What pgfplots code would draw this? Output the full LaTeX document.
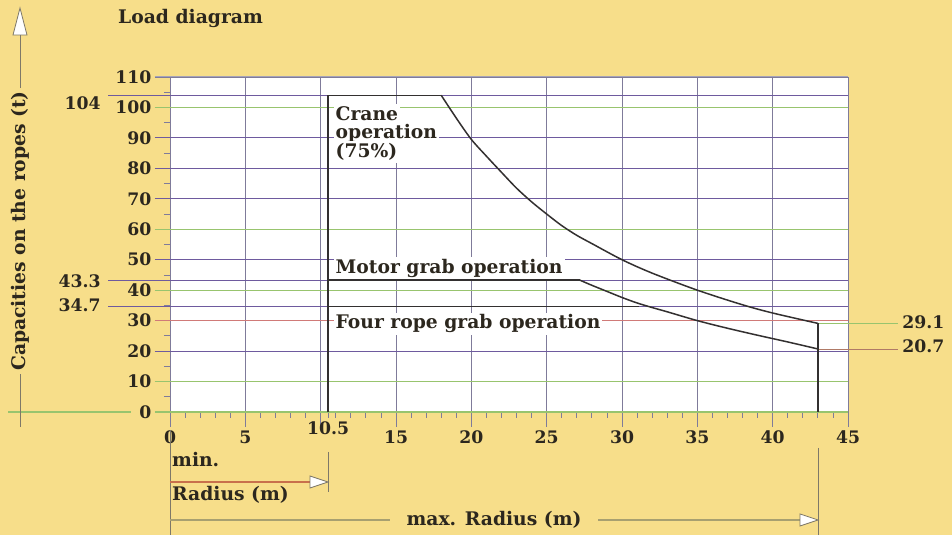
\documentclass[border=0pt]{standalone}
\usepackage{pgfplots}
\pgfplotsset{compat=1.18}
\usepackage{fontspec}
\setmainfont{DejaVu Serif}
\definecolor{bg}{HTML}{F7DE8A}
\definecolor{gridp}{HTML}{6E5A9E}
\definecolor{gridg}{HTML}{98C46E}
\definecolor{gridr}{HTML}{D07A78}
\definecolor{vgrid}{HTML}{7F7B9A}
\definecolor{ink}{HTML}{2C271E}
\definecolor{curve}{HTML}{333030}
\definecolor{minarrow}{HTML}{C8704C}
\definecolor{maxarrow}{HTML}{A8A070}
\definecolor{guide}{HTML}{7E7868}
\definecolor{leadr}{HTML}{B07A66}
\newcommand{\lbl}{\fontsize{18.8}{21}\selectfont\bfseries}
\newcommand{\tlbl}{\fontsize{17.3}{19}\selectfont\bfseries}
\begin{document}
\begin{tikzpicture}[x=1bp,y=1bp]
\path[use as bounding box, fill=bg] (-170,-123) rectangle (782,412);
\begin{axis}[
 at={(0,0)}, anchor=south west,
 scale only axis, width=678bp, height=335bp,
 xmin=0, xmax=45, ymin=0, ymax=110,
 axis background/.style={fill=white},
 xtick={0,5,...,45}, xticklabels={0,5,,15,20,25,30,35,40,45},
 extra x ticks={10.5}, extra x tick labels={10.5},
 extra x tick style={grid=none, major tick length=6bp},
 ytick={0,10,...,110},
 xtick pos=bottom, ytick pos=left,
 minor x tick num=4, minor y tick num=1,
 tick align=outside, major tick length=15bp, minor tick length=6bp,
 xmajorgrids, ymajorgrids,
 x grid style={vgrid, line width=0.8bp},
 y grid style={gridp, line width=1bp},
 axis line style={vgrid, line width=0.8bp},
 tick style={vgrid, line width=0.8bp},
 ticklabel style={font=\tlbl, text=ink},
 /pgf/number format/assume math mode=true,
 clip=false,
]
% horizontal grid lines (coloured), extended to the tick length
\addplot[vgrid!70, line width=1bp] coordinates {(-0.996,110)(45,110)};
\addplot[gridp, line width=1.1bp] coordinates {(-4.1,104)(45,104)};
\addplot[gridg, line width=1.1bp] coordinates {(-0.996,100)(45,100)};
\addplot[gridp, line width=1.1bp] coordinates {(-0.996,90)(45,90)};
\addplot[gridp, line width=1.1bp] coordinates {(-0.996,80)(45,80)};
\addplot[gridp, line width=1.1bp] coordinates {(-0.996,70)(45,70)};
\addplot[gridg, line width=1.1bp] coordinates {(-0.996,60)(45,60)};
\addplot[gridp, line width=1.1bp] coordinates {(-0.996,50)(45,50)};
\addplot[gridp, line width=1.1bp] coordinates {(-4.1,43.3)(45,43.3)};
\addplot[gridg, line width=1.1bp] coordinates {(-0.996,40)(45,40)};
\addplot[gridp, line width=1.1bp] coordinates {(-4.1,34.7)(45,34.7)};
\addplot[gridr, line width=1.1bp] coordinates {(-0.996,30)(45,30)};
\addplot[gridp, line width=1.1bp] coordinates {(-0.996,20)(45,20)};
\addplot[gridg, line width=1.1bp] coordinates {(-0.996,10)(45,10)};
\addplot[gridg, line width=1.2bp] coordinates {(-0.996,0)(45,0)};
\addplot[gridg, line width=1.2bp] coordinates {(-10.75,0)(-2.6,0)};
% right leaders
\addplot[gridg, line width=1.0bp] coordinates {(43,29.1)(48.3,29.1)};
\addplot[leadr, line width=0.9bp] coordinates {(43,20.7)(48.3,20.7)};
% text labels inside the plot
\node[fill=white, inner sep=2bp, anchor=base west, text=ink, font=\lbl] at (axis cs:10.85,95.8) {Crane};
\node[fill=white, inner sep=2bp, anchor=base west, text=ink, font=\lbl] at (axis cs:10.85,89.8) {operation};
\node[fill=white, inner sep=2bp, anchor=base west, text=ink, font=\lbl] at (axis cs:10.85,83.5) {(75\%)};
\node[fill=white, inner sep=2bp, anchor=base west, text=ink, font=\lbl] at (axis cs:10.85,45.6) {Motor grab operation};
\node[fill=white, inner sep=2bp, anchor=base west, text=ink, font=\lbl] at (axis cs:10.85,27.3) {Four rope grab operation};
% outer value labels
\node[anchor=east, text=ink, font=\tlbl, inner sep=0pt] at (axis cs:-4.6,101.5) {104};
\node[anchor=east, text=ink, font=\tlbl, inner sep=0pt] at (axis cs:-4.6,43.0) {43.3};
\node[anchor=east, text=ink, font=\tlbl, inner sep=0pt] at (axis cs:-4.6,35.1) {34.7};
\node[anchor=west, text=ink, font=\tlbl, inner sep=0pt] at (axis cs:48.6,29.6) {29.1};
\node[anchor=west, text=ink, font=\tlbl, inner sep=0pt] at (axis cs:48.6,21.7) {20.7};
% crane operation
\addplot[curve, line width=2.2bp] coordinates {(10.5,0)(10.5,104)};
\addplot[curve, line width=1.5bp] coordinates {(10.5,104)(18,104)};
\addplot[curve, line width=1.5bp, smooth, tension=0.5] coordinates {
 (18,104)(19,96.5)(20,89.5)(21,84)(22,78.7)(23,73.5)(24,69)(25,65)(26,61.2)(27,58)(28,55.3)(30,50)(32,45.6)(35,40)(38,35.2)(40,32.5)(43,29.1)};
% motor grab operation
\addplot[curve, line width=1.5bp] coordinates {(10.5,43.3)(27.2,43.3)};
\addplot[curve, line width=1.5bp, smooth, tension=0.5] coordinates {
 (27.2,43.3)(28,41.6)(29,39.6)(30,37.6)(31,35.8)(32,34.3)(33,32.9)(35,30.0)(37,27.5)(39,25.2)(41,23.0)(43,20.7)};
% four rope grab operation
\addplot[curve, line width=1.5bp] coordinates {(10.5,34.7)(31.1,34.7)};
% max radius
\addplot[curve, line width=2.2bp] coordinates {(43,0)(43,29.1)};
\end{axis}
% title
\node[anchor=west, text=ink, font=\lbl, inner sep=0pt] at (-52,394) {Load diagram};
% y label with arrow
\draw[guide, line width=0.8bp] (-150,-15) -- (-150,377);
\draw[guide, line width=0.8bp, fill=white] (-157,377) -- (-143,377) -- (-150,404) -- cycle;
\node[rotate=90, fill=bg, text=ink, font=\lbl, inner sep=3bp] at (-150,181) {Capacities on the ropes (t)};
% min radius
\draw[guide, line width=0.8bp] (0,-18) -- (0,-123);
\draw[guide, line width=0.8bp] (158,-40) -- (158,-80);
\draw[minarrow, line width=1.1bp] (0,-70) -- (140,-70);
\draw[guide, line width=0.8bp, fill=white] (140,-64) -- (140,-76) -- (158,-70) -- cycle;
\node[anchor=base west, text=ink, font=\lbl, inner sep=0pt] at (2,-55) {min.};
\node[anchor=base west, text=ink, font=\lbl, inner sep=0pt] at (2,-89) {Radius (m)};
% max radius
\draw[guide, line width=0.8bp] (648,-36) -- (648,-123);
\draw[maxarrow, line width=1.1bp] (0,-108) -- (220,-108);
\draw[maxarrow, line width=1.1bp] (428,-108) -- (630,-108);
\draw[guide, line width=0.8bp, fill=white] (630,-102) -- (630,-114) -- (648,-108) -- cycle;
\node[text=ink, font=\lbl, inner sep=0pt] at (324,-108) {max. Radius (m)};
\end{tikzpicture}
\end{document}
